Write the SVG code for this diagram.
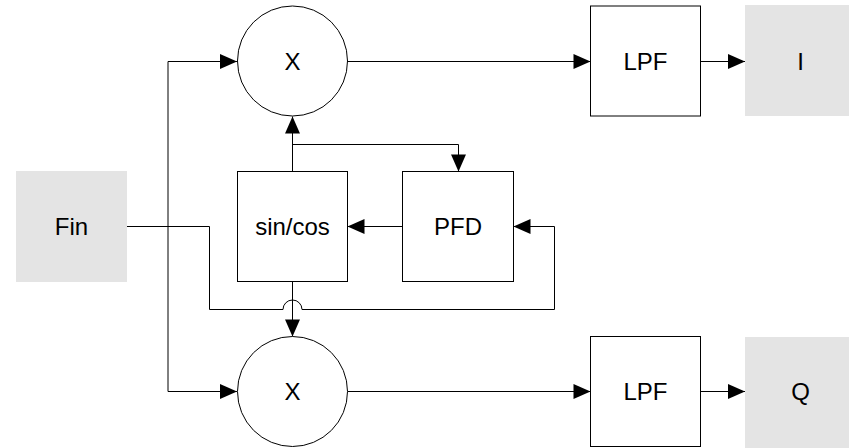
<svg xmlns="http://www.w3.org/2000/svg" width="849" height="448" viewBox="0 0 849 448">
  <style>
    .blk { fill: #ffffff; stroke: #000000; stroke-width: 1; }
    .port { fill: #e4e4e4; stroke: none; }
    .lbl { font-family: "Liberation Sans", Arial, sans-serif; font-size: 24px; fill: #000000; text-anchor: middle; }
    .wire { fill: none; stroke: #000000; stroke-width: 1; }
    .arr { marker-end: url(#head); }
  </style>
  <defs>
    <marker id="head" markerUnits="userSpaceOnUse" markerWidth="17" markerHeight="15" refX="17" refY="7.5" orient="auto" overflow="visible">
      <path d="M0,0 L17,7.5 L0,15 Z" fill="#000000"/>
    </marker>
  </defs>

  <g id="connectors">
    <!-- input distribution to both mixers -->
    <path class="wire" d="M127,226.5 H168"/>
    <path class="wire arr" d="M168,226.5 V61.5 H237"/>
    <path class="wire arr" d="M168,226.5 V391.5 H237"/>
    <!-- input routed around to the PFD, hopping over the sin/cos feed -->
    <path class="wire arr" d="M168,226.5 H209.5 V309.5 H283 A9.5 9.5 0 0 1 302 309.5 H554.5 V226.5 H513.5"/>
    <!-- mixer outputs through the filters -->
    <path class="wire arr" d="M347.5,61.5 H590.5"/>
    <path class="wire arr" d="M700.5,61.5 H745"/>
    <path class="wire arr" d="M347.5,391.5 H590.5"/>
    <path class="wire arr" d="M700.5,391.5 H745"/>
    <!-- loop: PFD drives the oscillator -->
    <path class="wire arr" d="M402.5,226.5 H347.5"/>
    <path class="wire arr" d="M292.5,171.5 V116.5"/>
    <path class="wire arr" d="M292.5,144.5 H458.5 V171.5"/>
    <path class="wire arr" d="M292.5,281.5 V336.5"/>
  </g>

  <g id="fin">
    <rect class="port" x="16" y="171" width="111" height="111"/>
    <text class="lbl" x="71.5" y="234.5">Fin</text>
  </g>

  <g id="mixer-i">
    <circle class="blk" cx="292.5" cy="61" r="55"/>
    <text class="lbl" x="292.5" y="69.5">X</text>
  </g>

  <g id="mixer-q">
    <circle class="blk" cx="292.5" cy="391.5" r="55"/>
    <text class="lbl" x="292.5" y="400">X</text>
  </g>

  <g id="sincos">
    <rect class="blk" x="237.5" y="171.5" width="110" height="110"/>
    <text class="lbl" x="292.5" y="234.5">sin/cos</text>
  </g>

  <g id="pfd">
    <rect class="blk" x="402.5" y="171.5" width="111" height="110"/>
    <text class="lbl" x="458" y="234.5">PFD</text>
  </g>

  <g id="lpf-i">
    <rect class="blk" x="590.5" y="6" width="110" height="110"/>
    <text class="lbl" x="645.5" y="69.5">LPF</text>
  </g>

  <g id="lpf-q">
    <rect class="blk" x="590.5" y="336.5" width="110" height="110"/>
    <text class="lbl" x="645.5" y="400">LPF</text>
  </g>

  <g id="out-i">
    <rect class="port" x="745" y="5" width="104" height="111"/>
    <text class="lbl" x="800.5" y="69.5">I</text>
  </g>

  <g id="out-q">
    <rect class="port" x="745" y="337" width="104" height="111"/>
    <text class="lbl" x="800.5" y="400">Q</text>
  </g>
</svg>
